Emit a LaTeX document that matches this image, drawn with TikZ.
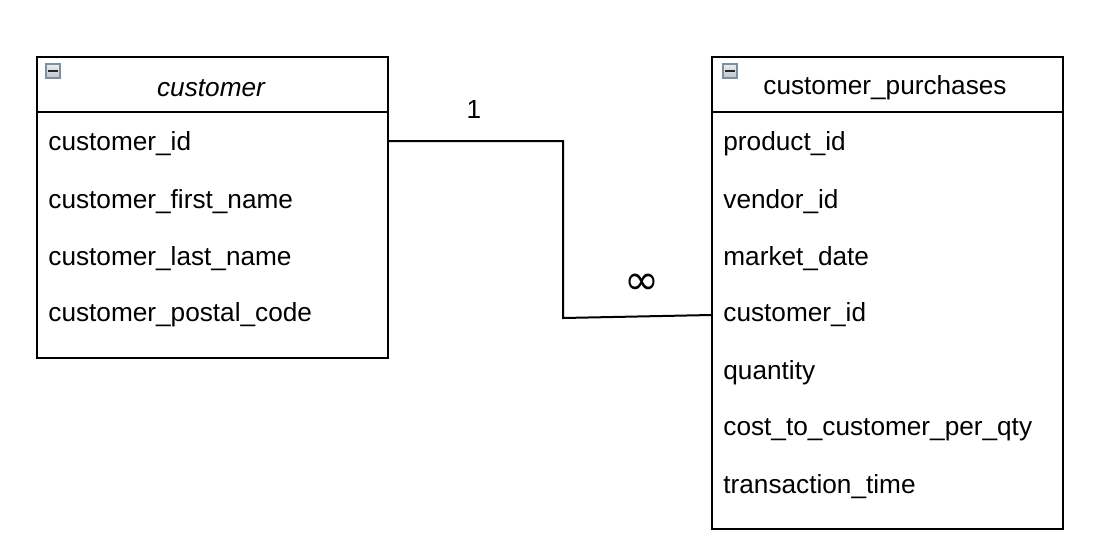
\documentclass[tikz,border=0pt]{standalone}
\usepackage{fontspec}
\setmainfont{Liberation Sans}
\newfontfamily\symfont{DejaVu Sans}
\begin{document}
\begin{tikzpicture}[x=0.5pt,y=-0.5pt,
  tbl/.style={draw=black, line width=1pt, anchor=north west, inner sep=0pt, minimum width=175.5pt},
  row/.style={anchor=west, inner sep=0pt, font=\fontsize{13.1}{15}\selectfont},
  hdr/.style={anchor=center, inner sep=0pt, font=\fontsize{13.1}{15}\selectfont},
  lbl/.style={inner sep=0pt, font=\fontsize{13.1}{15}\selectfont},
  conn/.style={draw=black, line width=1pt},
  icon/.style={draw={rgb,255:red,128;green,142;blue,158}, line width=1pt, top color={rgb,255:red,235;green,237;blue,240}, bottom color={rgb,255:red,190;green,196;blue,204}, minimum size=7pt, inner sep=0pt, anchor=north west}
]
\useasboundingbox (0,0) rectangle (1106,553);
\fill[white] (0,0) rectangle (1106,553);

% customer table
\node[tbl, minimum height=150.5pt] (cust) at (36,56) {};
\draw[line width=1pt] (36,112) -- (387,112);
\node[icon] (ic1) at (45,63) {};
\draw[line width=1.3pt, black!85] ([xshift=1.6pt]ic1.west) -- ([xshift=-1.6pt]ic1.east);
\node[hdr, font=\fontsize{13.1}{15}\selectfont\itshape] (custh) at (211,88) {customer};
\node[row] (c1) at (48,144) {customer\_id};
\node[row] (c2) at (48,202) {customer\_first\_name};
\node[row] (c3) at (48,259) {customer\_last\_name};
\node[row] (c4) at (48,315) {customer\_postal\_code};

% customer_purchases table
\node[tbl, minimum height=236pt] (purch) at (711,56) {};
\draw[line width=1pt] (711,112) -- (1062,112);
\node[icon] (ic2) at (722,63) {};
\draw[line width=1.3pt, black!85] ([xshift=1.6pt]ic2.west) -- ([xshift=-1.6pt]ic2.east);
\node[hdr] (purchh) at (885,88) {customer\_purchases};
\node[row] (p1) at (723,144) {product\_id};
\node[row] (p2) at (723,202) {vendor\_id};
\node[row] (p3) at (723,259) {market\_date};
\node[row] (p4) at (723,315) {customer\_id};
\node[row] (p5) at (723,373) {quantity};
\node[row] (p6) at (723,430) {cost\_to\_customer\_per\_qty};
\node[row] (p7) at (723,487) {transaction\_time};

% connector
\coordinate (k1) at (563,141);
\coordinate (k2) at (563,318);
\coordinate (k3) at (711,315);
\draw[conn] (cust.east |- k1) -- (k1) -- (k2) -- (k3);
\node[lbl] (one) at (474,109) {1};
\node[lbl, font=\fontsize{21}{23}\selectfont\symfont] (many) at (642,284) {∞};
\end{tikzpicture}
\end{document}
